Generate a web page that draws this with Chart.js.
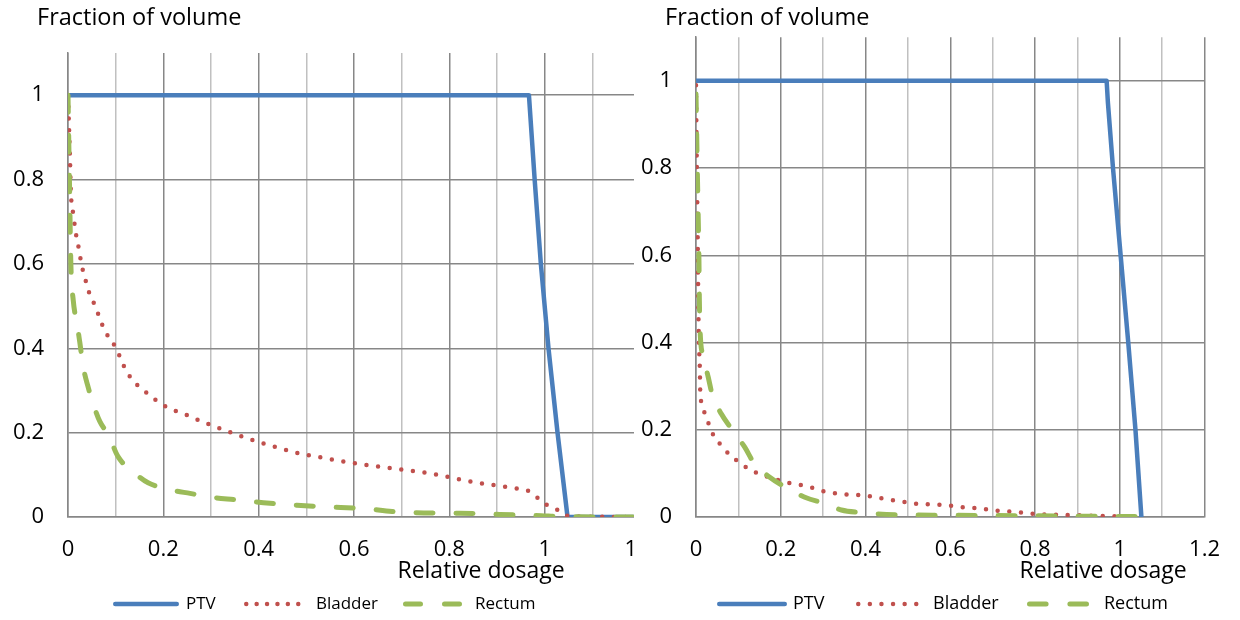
<!DOCTYPE html>
<html>
<head>
<meta charset="utf-8">
<script src="https://cdn.jsdelivr.net/npm/chart.js@4.4.0/dist/chart.umd.min.js"></script>
<style>
html,body{margin:0;padding:0;background:#fff;}
#wrap{position:relative;width:1240px;height:620px;overflow:hidden;background:#fff;}
#left{position:absolute;left:0;top:0;width:634px;height:620px;overflow:hidden;}
#right{position:absolute;left:634px;top:0;width:606px;height:620px;background:#fff;overflow:hidden;}
canvas{display:block;}
</style>
</head>
<body>
<div id="wrap">
  <div id="left"><canvas id="c1" width="680" height="620"></canvas></div>
  <div id="right"><canvas id="c2" width="606" height="620"></canvas></div>
</div>
<script>
// ---------- tick labels ----------
const DOSE_TICKS = [0, 0.1, 0.2, 0.3, 0.4, 0.5, 0.6, 0.7, 0.8, 0.9, 1.0, 1.1, 1.2];
const DOSE_TICK_LABELS = ['0', '', '0.2', '', '0.4', '', '0.6', '', '0.8', '', '1', '', '1.2'];
const VOL_TICKS = [0, 0.2, 0.4, 0.6, 0.8, 1.0];
const VOL_TICK_LABELS = ['0', '0.2', '0.4', '0.6', '0.8', '1'];
const SERIES_NAMES = ['PTV', 'Bladder', 'Rectum'];
const X_TITLE = 'Relative dosage';
const Y_TITLE = 'Fraction of volume';

// ---------- left chart data ----------
const ptvDoseA = [0, 0.967, 0.979, 0.992, 1.008, 1.027, 1.048, 1.2];
const ptvVolA  = [1, 1, 0.8, 0.6, 0.4, 0.2, 0, 0];

const bladderDoseA = [0, 0.002, 0.004, 0.006, 0.011, 0.018, 0.023, 0.027, 0.032, 0.039, 0.046, 0.057, 0.065, 0.074, 0.086, 0.1, 0.11, 0.12, 0.134, 0.151, 0.17, 0.189, 0.21, 0.233, 0.256, 0.277, 0.3, 0.35, 0.394, 0.442, 0.488, 0.537, 0.586, 0.634, 0.683, 0.732, 0.781, 0.83, 0.878, 0.927, 0.973, 0.991, 1.012, 1.035, 1.05, 1.2];
const bladderVolA  = [1.0, 0.93, 0.858, 0.771, 0.718, 0.662, 0.635, 0.607, 0.581, 0.553, 0.526, 0.501, 0.476, 0.45, 0.425, 0.402, 0.377, 0.351, 0.327, 0.307, 0.29, 0.273, 0.259, 0.248, 0.239, 0.228, 0.218, 0.197, 0.18, 0.164, 0.15, 0.14, 0.13, 0.122, 0.115, 0.108, 0.099, 0.087, 0.078, 0.07, 0.058, 0.039, 0.024, 0.013, 0.002, 0];

const rectumDoseA = [0, 0.003, 0.006, 0.011, 0.02, 0.025, 0.032, 0.041, 0.055, 0.067, 0.085, 0.105, 0.14, 0.168, 0.217, 0.256, 0.3, 0.35, 0.41, 0.48, 0.54, 0.62, 0.68, 0.73, 0.822, 0.906, 0.993, 1.03, 1.2];
const rectumVolA  = [1, 0.8, 0.6, 0.514, 0.451, 0.412, 0.356, 0.313, 0.261, 0.226, 0.194, 0.143, 0.104, 0.081, 0.064, 0.056, 0.047, 0.041, 0.034, 0.028, 0.024, 0.02, 0.013, 0.01, 0.009, 0.006, 0.003, 0.001, 0];

// ---------- right chart data ----------
const ptvDoseB = [0, 0.969, 0.972, 0.984, 1.002, 1.02, 1.037, 1.051];
const ptvVolB  = [1, 1, 0.95, 0.8, 0.6, 0.4, 0.2, 0];

const bladderDoseB = [0, 0.002, 0.004, 0.005, 0.006, 0.007, 0.009, 0.01, 0.013, 0.021, 0.031, 0.042, 0.059, 0.078, 0.098, 0.122, 0.146, 0.173, 0.2, 0.226, 0.253, 0.278, 0.305, 0.333, 0.361, 0.388, 0.415, 0.45, 0.496, 0.525, 0.58, 0.607, 0.635, 0.662, 0.689, 0.718, 0.745, 0.772, 0.8, 0.856, 0.911, 0.966, 1.0];
const bladderVolB  = [0.99, 0.8, 0.64, 0.533, 0.449, 0.396, 0.342, 0.289, 0.262, 0.237, 0.211, 0.186, 0.165, 0.144, 0.128, 0.112, 0.1, 0.091, 0.083, 0.077, 0.072, 0.066, 0.058, 0.054, 0.051, 0.05, 0.047, 0.041, 0.034, 0.03, 0.028, 0.025, 0.022, 0.02, 0.017, 0.014, 0.012, 0.01, 0.007, 0.005, 0.004, 0.002, 0.002];

const rectumDoseB = [0, 0.003, 0.005, 0.007, 0.008, 0.01, 0.017, 0.029, 0.038, 0.06, 0.084, 0.115, 0.136, 0.174, 0.212, 0.26, 0.3, 0.343, 0.39, 0.48, 0.6, 0.75, 0.9, 1.05];
const rectumVolB  = [0.97, 0.8, 0.7, 0.586, 0.495, 0.42, 0.37, 0.32, 0.282, 0.236, 0.202, 0.16, 0.125, 0.091, 0.068, 0.044, 0.032, 0.016, 0.01, 0.005, 0.004, 0.003, 0.002, 0.001];

// ---------- styles ----------
const FONT = '"Open Sans", "Noto Sans", sans-serif';
const COLORS = ['#4a7ebb', '#c0504d', '#9bbb59'];
const GRID_DARK = '#878787';
const GRID_LIGHT = '#c0c0c0';

function pts(xs, ys) { return xs.map((x, i) => ({x: x, y: ys[i]})); }

function buildDatasets(ptvD, ptvV, blD, blV, reD, reV) {
  return [
    {label: SERIES_NAMES[0], data: pts(ptvD, ptvV), borderColor: COLORS[0], borderWidth: 4.5,
     borderJoinStyle: 'round', borderCapStyle: 'round', tension: 0, pointRadius: 0, order: 3},
    {label: SERIES_NAMES[1], data: pts(blD, blV), borderColor: COLORS[1], borderWidth: 4.5,
     borderDash: [0, 11.7], borderCapStyle: 'round', cubicInterpolationMode: 'monotone', pointRadius: 0, order: 2},
    {label: SERIES_NAMES[2], data: pts(reD, reV), borderColor: COLORS[2], borderWidth: 5,
     borderDash: [17, 23], borderCapStyle: 'round', cubicInterpolationMode: 'monotone', pointRadius: 0, order: 1}
  ];
}

const decor = {
  id: 'decor',
  afterDraw(chart, args, o) {
    const ctx = chart.ctx, a = chart.chartArea;
    ctx.save();
    ctx.fillStyle = '#000';
    ctx.textBaseline = 'middle';
    ctx.font = o.yTitleSize + 'px ' + FONT;
    ctx.textAlign = 'left';
    ctx.fillText(Y_TITLE, a.left + o.yTitleDx, o.yTitleY);
    ctx.font = o.xTitleSize + 'px ' + FONT;
    ctx.textAlign = 'center';
    ctx.fillText(X_TITLE, o.xTitleX, o.xTitleY);
    chart.data.datasets.forEach((ds, i) => {
      const x0 = o.legendX[i], y = o.legendY, w = ds.borderWidth;
      ctx.beginPath();
      ctx.strokeStyle = ds.borderColor;
      ctx.lineWidth = w;
      ctx.lineCap = 'round';
      ctx.setLineDash(o.legendDash[i]);
      ctx.moveTo(x0 + w / 2, y);
      ctx.lineTo(x0 + o.legendLen[i] - w / 2, y);
      ctx.stroke();
      ctx.setLineDash([]);
      ctx.font = o.legendSize + 'px ' + FONT;
      ctx.textAlign = 'left';
      ctx.fillStyle = '#000';
      ctx.fillText(ds.label, o.legendTextX[i], y);
    });
    ctx.restore();
  }
};

function makeChart(id, datasets, L) {
  const canvas = document.getElementById(id);
  const xAxisH = 50;
  return new Chart(canvas, {
    type: 'line',
    data: {datasets: datasets},
    options: {
      responsive: false,
      animation: false,
      devicePixelRatio: 1,
      layout: {padding: {left: 0, top: L.top, right: L.canvasW - L.right, bottom: 620 - L.bottom - xAxisH}},
      plugins: {legend: {display: false}, tooltip: {enabled: false}, title: {display: false}, decor: L.decor},
      scales: {
        x: {
          type: 'linear', min: 0, max: 1.2,
          afterBuildTicks: s => { s.ticks = DOSE_TICKS.map(v => ({value: v})); },
          afterFit: s => { s.height = xAxisH; },
          ticks: {autoSkip: false, maxRotation: 0, padding: L.xPad, color: '#000',
                  font: {family: FONT, size: 22}, callback: (v, i) => DOSE_TICK_LABELS[i]},
          grid: {drawTicks: false, lineWidth: 1.5,
                 color: c => (c.tick && Math.round(c.tick.value * 10) % 2 === 0) ? GRID_DARK : GRID_LIGHT},
          border: {display: true, color: GRID_DARK, width: 1.5}
        },
        y: {
          type: 'linear', min: 0, max: 1.1,
          afterBuildTicks: s => { s.ticks = VOL_TICKS.map(v => ({value: v})); },
          afterFit: s => { s.width = L.left; },
          ticks: {padding: L.yPad, color: '#000', font: {family: FONT, size: 22},
                  callback: (v, i) => VOL_TICK_LABELS[i]},
          grid: {drawTicks: false, lineWidth: 1.5, color: GRID_DARK},
          border: {display: true, color: GRID_DARK, width: 1.5}
        }
      }
    },
    plugins: [decor]
  });
}

makeChart('c1', buildDatasets(ptvDoseA, ptvVolA, bladderDoseA, bladderVolA, rectumDoseA, rectumVolA), {
  left: 68, right: 640, top: 53, bottom: 517, canvasW: 680, xPad: 20, yPad: 24,
  decor: {yTitleSize: 23.5, yTitleDx: -31, yTitleY: 18, xTitleSize: 23, xTitleX: 481, xTitleY: 571,
          legendY: 604, legendSize: 17, legendX: [113, 244, 403], legendLen: [66, 57, 59],
          legendTextX: [186, 316, 475], legendDash: [[], [0, 10.4], [15, 24]]}
});

makeChart('c2', buildDatasets(ptvDoseB, ptvVolB, bladderDoseB, bladderVolB, rectumDoseB, rectumVolB), {
  left: 62, right: 572, top: 35, bottom: 517, canvasW: 606, xPad: 20, yPad: 24,
  decor: {yTitleSize: 23.5, yTitleDx: -31, yTitleY: 18, xTitleSize: 23, xTitleX: 469, xTitleY: 571,
          legendY: 604, legendSize: 18, legendX: [83, 222, 393], legendLen: [70, 63, 62],
          legendTextX: [159, 299, 470], legendDash: [[], [0, 11.6], [16.6, 23.8]]}
});
</script>
</body>
</html>
